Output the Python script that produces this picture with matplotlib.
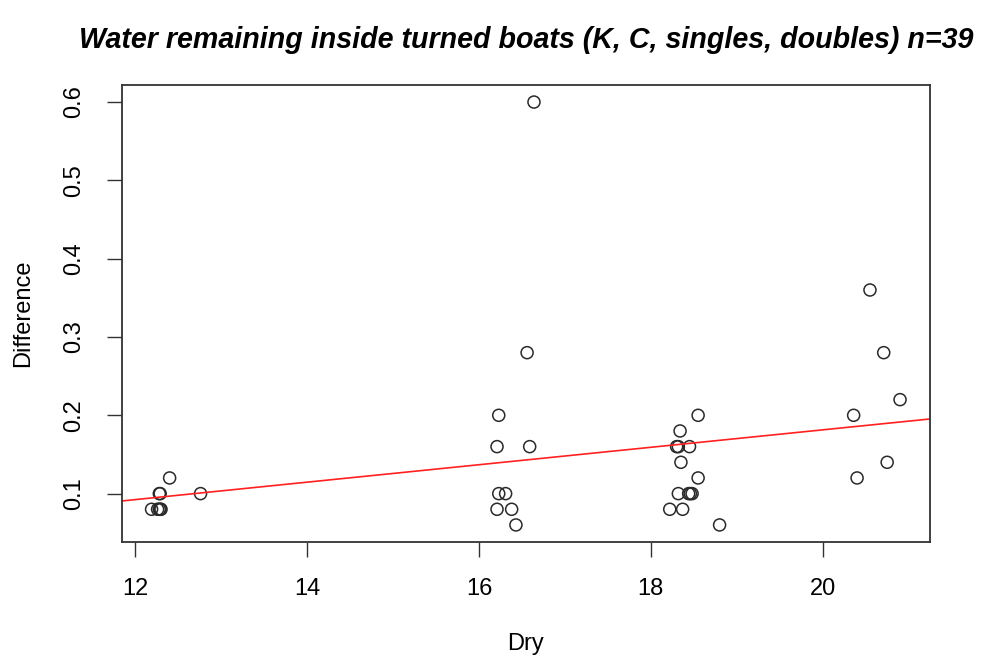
import numpy as np
import matplotlib
matplotlib.use("Agg")
import matplotlib.pyplot as plt

plt.rcParams['font.family'] = ['Liberation Sans', 'DejaVu Sans']

# Dry weight vs. water difference
dry = [12.19, 12.26, 12.28, 12.29, 12.30, 12.28, 12.29, 12.40, 12.76,
       16.21, 16.23, 16.56, 16.64, 16.59, 16.23, 16.31, 16.21, 16.38, 16.43,
       18.55, 18.34, 18.30, 18.32, 18.45, 18.35, 18.55, 18.32, 18.44, 18.46,
       18.48, 18.22, 18.37, 18.80,
       20.55, 20.71, 20.90, 20.36, 20.75, 20.40]
diff = [0.08, 0.08, 0.08, 0.08, 0.08, 0.10, 0.10, 0.12, 0.10,
        0.16, 0.20, 0.28, 0.60, 0.16, 0.10, 0.10, 0.08, 0.08, 0.06,
        0.20, 0.18, 0.16, 0.16, 0.16, 0.14, 0.12, 0.10, 0.10, 0.10,
        0.10, 0.08, 0.08, 0.06,
        0.36, 0.28, 0.22, 0.20, 0.14, 0.12]

xticks = [12, 14, 16, 18, 20]
yticks = [0.1, 0.2, 0.3, 0.4, 0.5, 0.6]

fig = plt.figure(figsize=(9.81, 6.6), dpi=100)
ax = fig.add_axes([0.124, 0.179, 0.824, 0.692])

ax.scatter(dry, diff, s=75, facecolors='none', edgecolors='#2a2a2a', linewidths=1.1)

# least squares line, like abline(lm(...)) in R
slope, icpt = np.polyfit(dry, diff, 1)
ax.axline((0, icpt), slope=slope, color='#ff2020', lw=1.2)

# R style 4% padding
xr = max(dry) - min(dry)
yr = max(diff) - min(diff)
ax.set_xlim(min(dry) - 0.04 * xr, max(dry) + 0.04 * xr)
ax.set_ylim(min(diff) - 0.04 * yr, max(diff) + 0.04 * yr)

ax.set_xticks(xticks)
ax.set_yticks(yticks)
ax.set_xticklabels([str(t) for t in xticks])
ax.set_yticklabels([str(t) for t in yticks], rotation=90, va='center')
ax.tick_params(labelsize=17, length=11, width=1, pad=15, color='#333333')

for sp in ax.spines.values():
    sp.set_color('#333333')
    sp.set_linewidth(1.3)

ax.set_xlabel('Dry', fontsize=17, labelpad=24)
ax.set_ylabel('Difference', fontsize=17, labelpad=21)
ax.set_title('Water remaining inside turned boats (K, C, singles, doubles) n=39',
             fontsize=20.6, fontweight='bold', fontstyle='italic', pad=27)

fig.savefig('out.png', dpi=100)
